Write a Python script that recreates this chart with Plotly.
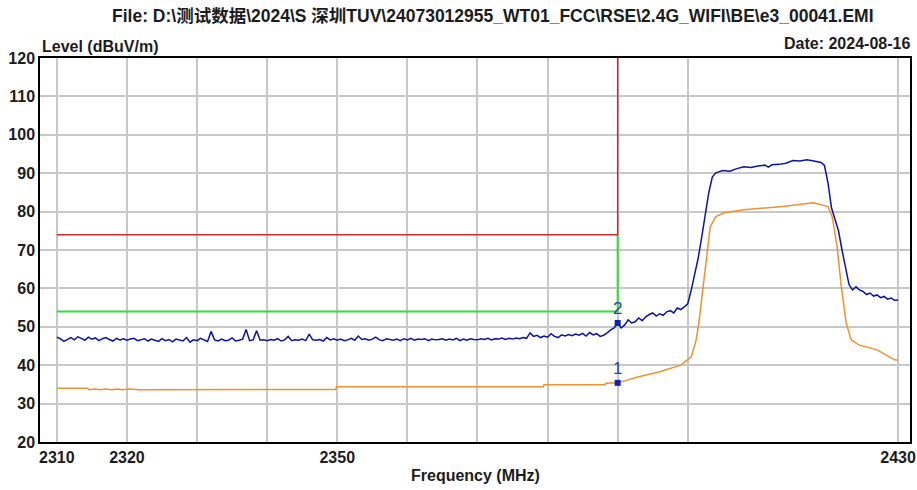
import plotly.graph_objects as go

# ---------------- data ----------------
title_text = "File: D:\\测试数据\\2024\\S 深圳TUV\\24073012955_WT01_FCC\\RSE\\2.4G_WIFI\\BE\\e3_00041.EMI"
date_text = "Date: 2024-08-16"

grid_freqs = [2310, 2320, 2330, 2340, 2350, 2360, 2370, 2380, 2390, 2400, 2430]
grid_labels = ["2310", "2320", "", "", "2350", "", "", "", "", "", "2430"]
level_ticks = [20, 30, 40, 50, 60, 70, 80, 90, 100, 110, 120]

# limits
limit_freq = [2310, 2390, 2390]
peak_limit = [74, 74, 125]
avg_limit = [54, 54, 74]

# peak trace (blue): 0.5 MHz steps 2310 .. 2389.5
peak_noise = [
    47.3, 46.9, 46.2, 46.8, 47.2, 46.6, 47.4, 47.0, 46.5, 47.3,
    46.8, 47.1, 46.4, 46.9, 47.2, 46.7, 46.3, 47.0, 46.6, 46.9,
    46.5, 46.8, 47.0, 46.4, 46.7, 46.9, 46.3, 46.8, 46.5, 46.2,
    46.9, 46.4, 46.7, 46.1, 46.8, 46.5, 46.3, 47.2, 46.0, 46.6,
    46.4, 47.0, 46.5, 46.2, 48.8, 46.6, 46.3, 46.8, 46.4, 46.5,
    47.1, 46.3, 46.5, 46.8, 49.3, 46.4, 46.6, 49.0, 46.5, 46.6,
    46.4, 46.7, 46.5, 46.9, 46.3, 46.6, 47.5, 46.4, 46.6, 46.5,
    46.8, 46.4, 48.1, 46.6, 46.5, 46.7, 46.3, 47.2, 46.6, 46.9,
    46.5, 46.8, 46.4, 46.6, 47.0, 46.5, 47.6, 46.7, 46.9, 46.5,
    46.8, 47.3, 46.6, 46.4, 46.9, 46.7, 46.5, 46.8, 46.4, 46.9,
    46.6, 47.0, 46.5, 46.8, 46.7, 46.9, 46.4, 46.8, 46.6, 46.7,
    46.9, 46.5, 46.8, 46.6, 47.0, 46.4, 46.8, 46.5, 46.9, 46.7,
    46.6, 46.9, 46.7, 47.0, 46.6, 46.9, 46.8, 47.1, 46.7, 47.0,
    46.8, 47.1, 46.9, 47.2, 47.0, 48.4, 47.5, 47.8, 47.2, 47.6,
    47.3, 48.2, 47.5, 47.2, 47.9, 47.6, 48.0, 47.7, 48.1, 47.8,
    48.3, 47.6, 48.5, 47.9, 48.2, 47.5, 47.8, 48.4, 49.2, 49.7,
]
peak_noise_freq = [2310 + 0.5 * i for i in range(len(peak_noise))]

peak_band_freq = [
    2390.0, 2390.5, 2391.0, 2391.5, 2392.0, 2392.5, 2393.0, 2393.5, 2394.0, 2394.5,
    2395.0, 2395.5, 2396.0, 2396.5, 2397.0, 2397.5, 2398.0, 2398.5, 2399.0, 2399.5,
    2400.0, 2400.5, 2401.0, 2401.5, 2402.0, 2402.5, 2403.0, 2403.5, 2404.0, 2405.0,
    2406.0, 2407.0, 2408.0, 2409.0, 2410.0, 2411.0, 2411.5, 2412.0, 2413.0, 2414.0,
    2415.0, 2416.0, 2417.0, 2418.0, 2419.0, 2419.5, 2420.0, 2420.5, 2421.0, 2421.5,
    2422.0, 2422.5, 2423.0, 2423.5, 2424.0, 2424.5, 2425.0, 2425.5, 2426.0, 2426.5,
    2427.0, 2427.5, 2428.0, 2428.5, 2429.0, 2429.5, 2430.0,
]
peak_band = [
    51.0, 49.7, 50.5, 51.8, 51.0, 51.3, 52.3, 51.6, 52.6, 53.2,
    53.6, 52.8, 53.4, 53.0, 53.9, 54.2, 53.6, 54.9, 54.5, 55.2,
    56.0, 59.6, 63.5, 68.0, 73.5, 78.7, 85.0, 89.0, 90.1, 90.7,
    90.5, 91.2, 91.7, 91.5, 91.9, 92.1, 91.6, 92.2, 92.3, 92.6,
    93.3, 93.2, 93.5, 93.2, 92.8, 92.0, 87.5, 81.0, 78.0, 75.0,
    70.0, 65.0, 61.0, 59.6, 60.4, 59.6, 59.2, 58.4, 58.8, 58.0,
    58.3, 57.6, 57.9, 57.2, 57.5, 56.9, 57.0,
]
peak_freq = peak_noise_freq + peak_band_freq
peak_level = peak_noise + peak_band

# average trace (orange)
avg_freq = [
    2310.0, 2314.4, 2314.6, 2315.5, 2316.2, 2317.0, 2317.8, 2318.6, 2319.4, 2320.2,
    2321.4, 2321.5, 2349.8, 2349.9, 2379.4, 2379.5, 2388.2, 2388.3, 2390.0, 2393.0,
    2396.0, 2399.0, 2400.5, 2401.2, 2401.6, 2402.0, 2402.5, 2403.2, 2404.0, 2405.2,
    2408.0, 2413.6, 2417.9, 2420.0, 2420.6, 2421.3, 2421.9, 2422.6, 2423.3, 2424.4,
    2427.0, 2429.5, 2430.0,
]
avg_level = [
    34.0, 34.0, 33.6, 33.8, 33.6, 33.8, 33.6, 33.8, 33.6, 33.8,
    33.7, 33.6, 33.7, 34.4, 34.4, 34.9, 34.9, 35.3, 35.4, 37.0,
    38.3, 40.0, 42.2, 46.6, 51.3, 57.8, 65.6, 76.0, 78.7, 79.7,
    80.5, 81.3, 82.3, 81.3, 78.7, 70.9, 60.4, 51.0, 46.6, 45.3,
    44.0, 41.4, 41.3,
]

marker_freq = [2390, 2390]
marker_level = [35.4, 51.0]
marker_label = ["1", "2"]

# ---------------- figure ----------------
fig = go.Figure()
fig.add_trace(go.Scatter(x=limit_freq, y=avg_limit, mode="lines",
                         line=dict(color="#2fe02f", width=2), hoverinfo="skip"))
fig.add_trace(go.Scatter(x=limit_freq, y=peak_limit, mode="lines",
                         line=dict(color="#cc2a2a", width=1.5), hoverinfo="skip"))
fig.add_trace(go.Scatter(x=avg_freq, y=avg_level, mode="lines",
                         line=dict(color="#ec9230", width=1.5)))
fig.add_trace(go.Scatter(x=peak_freq, y=peak_level, mode="lines",
                         line=dict(color="#0c14a0", width=1.5)))
fig.add_trace(go.Scatter(x=marker_freq, y=marker_level, mode="markers+text",
                         text=marker_label, textposition="top center",
                         textfont=dict(family="Liberation Sans", size=17, color="#2a40b8"),
                         marker=dict(symbol="square", size=6, color="#1020b0"),
                         cliponaxis=False))

font_main = "Liberation Sans, Arial, sans-serif"
txt_color = "#1c1c1c"

fig.update_layout(
    width=917, height=490,
    margin=dict(l=40, r=7, t=58, b=48),
    paper_bgcolor="white", plot_bgcolor="white",
    showlegend=False,
    font=dict(family=font_main, color=txt_color),
    xaxis=dict(
        range=[2307.6, 2431.7], automargin=False,
        tickmode="array", tickvals=grid_freqs, ticktext=grid_labels,
        showgrid=True, gridcolor="#c8c8c8", gridwidth=1.5,
        zeroline=False, showline=True, linecolor="black", linewidth=1.5, mirror=True,
        ticks="", tickfont=dict(size=16, weight="bold", color=txt_color),
    ),
    yaxis=dict(
        range=[20, 120], automargin=False,
        tickmode="array", tickvals=level_ticks,
        showgrid=True, gridcolor="#c8c8c8", gridwidth=1.5,
        zeroline=False, showline=True, linecolor="black", linewidth=1.5, mirror=True,
        ticks="", tickfont=dict(size=16, weight="bold", color=txt_color),
    ),
    annotations=[
        dict(text=title_text, xref="paper", yref="paper", x=0.5207, y=1.109,
             xanchor="center", yanchor="middle", showarrow=False,
             font=dict(size=17.5, weight="bold", color=txt_color,
                       family="Liberation Sans, Noto Sans CJK SC, sans-serif")),
        dict(text="Level (dBuV/m)", xref="paper", yref="paper", x=0.0, y=1.031,
             xanchor="left", yanchor="middle", showarrow=False,
             font=dict(size=16, weight="bold", color=txt_color)),
        dict(text=date_text, xref="paper", yref="paper", x=1.0023, y=1.039,
             xanchor="right", yanchor="middle", showarrow=False,
             font=dict(size=16, weight="bold", color=txt_color)),
        dict(text="Frequency (MHz)", xref="paper", yref="paper", x=0.501, y=-0.086,
             xanchor="center", yanchor="middle", showarrow=False,
             font=dict(size=16, weight="bold", color=txt_color)),
    ],
)

fig.write_html(
    "out.html",
    config={"displayModeBar": False},
    post_script="document.body.style.margin='0';document.body.style.overflow='hidden';",
)
